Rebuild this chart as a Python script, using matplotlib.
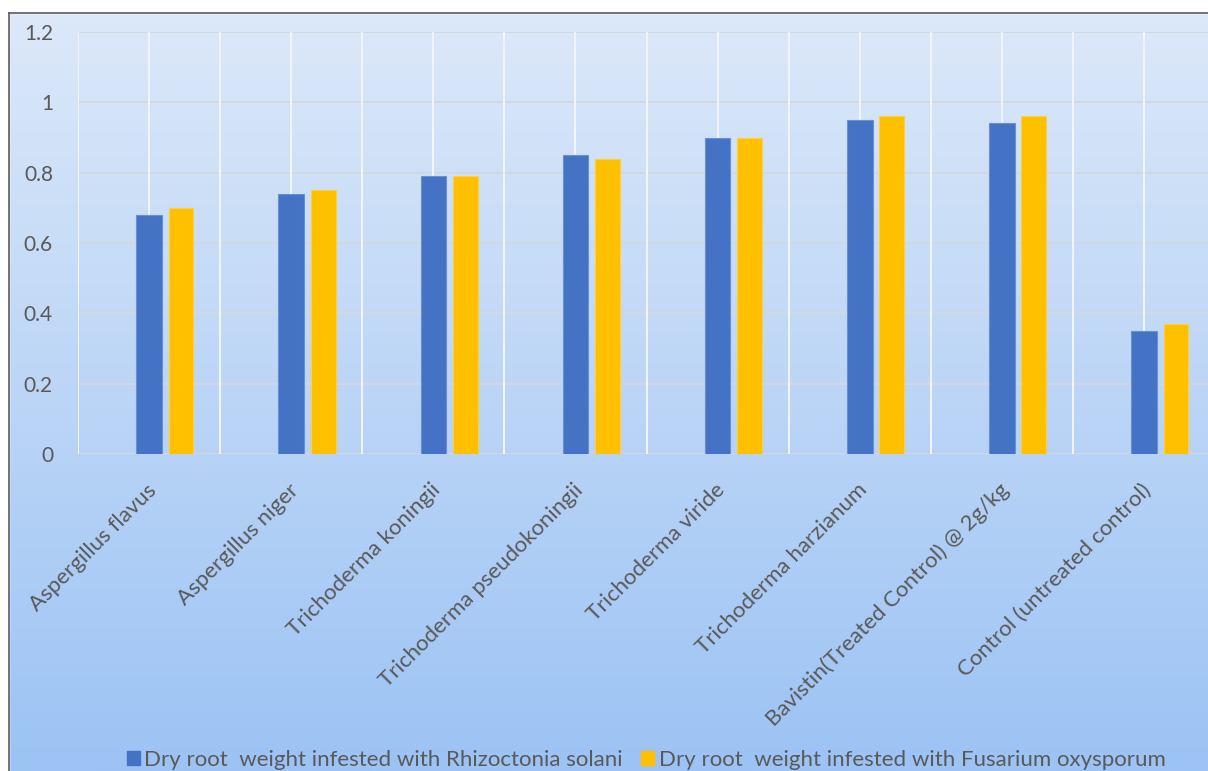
import numpy as np
import matplotlib
matplotlib.use("Agg")
import matplotlib.pyplot as plt
from matplotlib.patches import Rectangle
import matplotlib.transforms as mtransforms

categories = ["Aspergillus flavus", "Aspergillus niger", "Trichoderma koningii",
              "Trichoderma pseudokoningii", "Trichoderma viride", "Trichoderma harzianum",
              "Bavistin(Treated Control) @ 2g/kg", "Control (untreated control)"]
rhizoctonia = [0.68, 0.74, 0.79, 0.85, 0.90, 0.95, 0.94, 0.35]
fusarium = [0.70, 0.75, 0.79, 0.84, 0.90, 0.96, 0.96, 0.37]
series_names = ["Dry root  weight infested with Rhizoctonia solani",
                "Dry root  weight infested with Fusarium oxysporum"]
yticks = [0, 0.2, 0.4, 0.6, 0.8, 1.0, 1.2]
ytick_labels = ["0", "0.2", "0.4", "0.6", "0.8", "1", "1.2"]

plt.rcParams['font.family'] = ['Lato', 'DejaVu Sans']
W, H = 1208, 771
fig = plt.figure(figsize=(W / 100, H / 100), dpi=100)

# background gradient
bg = fig.add_axes([0, 0, 1, 1], zorder=0)
top_c = np.array([221, 233, 249]) / 255
bot_c = np.array([156, 195, 244]) / 255
t = np.linspace(0, 1, 256)[:, None]
grad = top_c[None, :] * (1 - t) + bot_c[None, :] * t
img = np.repeat(grad[:, None, :], 2, axis=1)
bg.imshow(img, aspect='auto', extent=[0, W, H, 0], interpolation='bilinear')
bg.set_xlim(0, W)
bg.set_ylim(H, 0)
bg.add_patch(Rectangle((0, 0), W, 13, color='white', zorder=2))
bg.add_patch(Rectangle((0, 0), 9, H, color='white', zorder=2))
bg.plot([9, W], [13, 13], color='#5a5a5a', lw=1.2, zorder=3)
bg.plot([9, 9], [13, H], color='#5a5a5a', lw=1.2, zorder=3)
bg.axis('off')

ax = fig.add_axes([78 / W, 1 - 454 / H, 1 - 78 / W, (454 - 32) / H], zorder=1)
ax.patch.set_alpha(0)
x = np.arange(len(categories))
ax.set_xlim(-0.5, 7.45)
ax.set_ylim(0, 1.2)

for yv in yticks:
    ax.axhline(yv, color='#d3d8df', lw=1.4, zorder=1)
for xv in np.arange(-0.5, 8.0, 0.5):
    ax.axvline(xv, color='#f2f6fc', lw=1.4, zorder=1)

ax.bar(x, rhizoctonia, width=0.18, color='#4472c4', edgecolor='#6a90d4', lw=0.8, zorder=3)
ax.bar(x + 0.225, fusarium, width=0.175, color='#ffc000', edgecolor='#ffcf40', lw=0.8, zorder=3)

for s in ax.spines.values():
    s.set_visible(False)
ax.set_yticks(yticks)
ax.set_yticklabels(ytick_labels, fontsize=15, color='#595959')
ax.tick_params(axis='y', length=0, pad=18)
ax.set_xticks([])

trans = mtransforms.blended_transform_factory(ax.transData, ax.transAxes)
off = mtransforms.ScaledTranslation(4 / 100, -33 / 100, fig.dpi_scale_trans)
for i, lab in enumerate(categories):
    ax.text(x[i], 0, lab, transform=trans + off, rotation=45, rotation_mode='anchor',
            ha='right', va='center', fontsize=16, color='#595959')

handles = [Rectangle((0, 0), 1, 1, color='#4472c4'), Rectangle((0, 0), 1, 1, color='#ffc000')]
fig.legend(handles, series_names, loc='center', bbox_to_anchor=(646 / W, 1 - 760 / H),
           ncol=2, frameon=False, fontsize=16, labelcolor='#595959',
           handlelength=0.6, handleheight=0.6, handletextpad=0.2, columnspacing=0.8,
           borderpad=0, borderaxespad=0)

fig.savefig("out.png", dpi=100)
